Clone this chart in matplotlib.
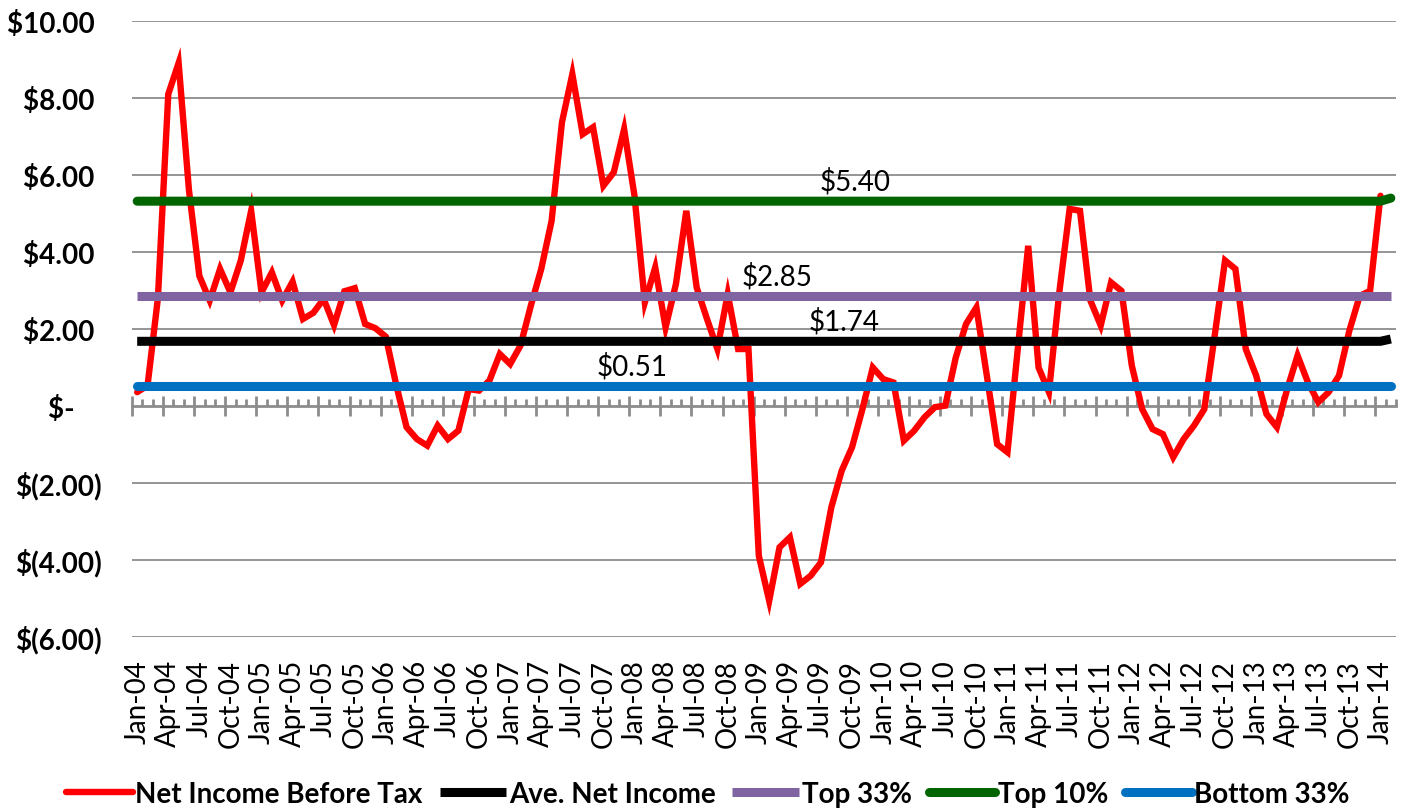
import matplotlib
matplotlib.use("Agg")
import matplotlib.pyplot as plt
import numpy as np

plt.rcParams['font.family'] = ['Lato', 'DejaVu Sans']

# ---- data -------------------------------------------------------------
n_months = 122  # Jan-04 .. Feb-14 (category slots)
net_income = [0.36, 0.53, 2.8, 8.1, 8.91, 5.6, 3.38, 2.74, 3.56, 2.95,
              3.78, 5.07, 2.95, 3.47, 2.74, 3.23, 2.26, 2.42, 2.78, 2.10,
              2.98, 3.06, 2.13, 2.02, 1.80, 0.55, -0.55, -0.86, -1.03, -0.51,
              -0.86, -0.64, 0.44, 0.40, 0.66, 1.35, 1.09, 1.57, 2.61, 3.56,
              4.81, 7.37, 8.62, 7.06, 7.24, 5.72, 6.07, 7.19, 5.46, 2.69,
              3.60, 2.04, 3.17, 5.07, 3.08, 2.26, 1.48, 2.91, 1.48, 1.48,
              -3.89, -5.06, -3.67, -3.41, -4.62, -4.41, -4.06, -2.63, -1.68, -1.07,
              -0.08, 1.00, 0.70, 0.61, -0.90, -0.64, -0.29, -0.03, 0.01, 1.25,
              2.13, 2.56, 0.80, -0.99, -1.20, 1.50, 4.16, 1.00, 0.36, 2.95,
              5.12, 5.07, 2.74, 2.09, 3.21, 2.99, 1.05, -0.08, -0.60, -0.73,
              -1.33, -0.86, -0.51, -0.08, 1.83, 3.78, 3.56, 1.48, 0.79, -0.21,
              -0.55, 0.44, 1.31, 0.61, 0.10, 0.36, 0.79, 1.96, 2.86, 2.99,
              5.46, np.nan]
ave_net_income = [1.68] * 121 + [1.74]
top_33 = [2.85] * 122
top_10 = [5.32] * 121 + [5.40]
bottom_33 = [0.51] * 122

tick_labels = ["Jan-04", "Apr-04", "Jul-04", "Oct-04", "Jan-05", "Apr-05", "Jul-05", "Oct-05",
               "Jan-06", "Apr-06", "Jul-06", "Oct-06", "Jan-07", "Apr-07", "Jul-07", "Oct-07",
               "Jan-08", "Apr-08", "Jul-08", "Oct-08", "Jan-09", "Apr-09", "Jul-09", "Oct-09",
               "Jan-10", "Apr-10", "Jul-10", "Oct-10", "Jan-11", "Apr-11", "Jul-11", "Oct-11",
               "Jan-12", "Apr-12", "Jul-12", "Oct-12", "Jan-13", "Apr-13", "Jul-13", "Oct-13",
               "Jan-14"]
y_ticks = [-6, -4, -2, 0, 2, 4, 6, 8, 10]
y_tick_labels = ["$(6.00)", "$(4.00)", "$(2.00)", "$-    ", "$2.00 ", "$4.00 ",
                 "$6.00 ", "$8.00 ", "$10.00 "]

# data labels: (text, category index, value)
data_labels = [("$5.40", 69.3, 5.32), ("$2.85", 61.8, 2.85),
               ("$1.74", 68.2, 1.68), ("$0.51", 47.8, 0.51)]

# ---- figure -----------------------------------------------------------
W, H = 1403, 812
fig = plt.figure(figsize=(W / 100, H / 100), dpi=100)
ax = fig.add_axes([132 / W, (H - 638) / H, (1396 - 132) / W, (638 - 22) / H])

x = np.arange(n_months)
grid_c = "#8c8c8c"

ax.plot(x, net_income, color="#FF0000", lw=4.6, solid_capstyle="round",
        solid_joinstyle="miter", label="Net Income Before Tax", zorder=3)
ax.plot(x, ave_net_income, color="#000000", lw=6.5, solid_capstyle="butt",
        label="Ave. Net Income", zorder=4)
ax.plot(x, top_33, color="#8064A2", lw=6.5, solid_capstyle="butt",
        label="Top 33%", zorder=4)
ax.plot(x, top_10, color="#006400", lw=6.5, solid_capstyle="round",
        label="Top 10%", zorder=4)
ax.plot(x, bottom_33, color="#0070C0", lw=6.5, solid_capstyle="round",
        label="Bottom 33%", zorder=4)

for txt, xi, yv in data_labels:
    ax.annotate(txt, (xi, yv), xytext=(0, 14.5), textcoords="offset points",
                ha="center", va="center", fontsize=20, color="black", zorder=5)

ax.set_xlim(-0.5, n_months - 0.5)
ax.set_ylim(-6, 10)

# y axis
ax.set_yticks(y_ticks)
ax.set_yticklabels(y_tick_labels, fontsize=20, fontweight="bold")
ax.tick_params(axis="y", length=0, pad=22)
for v in y_ticks:
    if v != 0:
        ax.axhline(v, color=grid_c, lw=1.3, zorder=1)

for s in ["left", "right", "top"]:
    ax.spines[s].set_visible(False)
ax.spines["bottom"].set_position(("data", 0))
ax.spines["bottom"].set_color(grid_c)
ax.spines["bottom"].set_linewidth(2.0)
ax.spines["bottom"].set_zorder(2)

# x axis ticks at slot boundaries on the zero line
ax.set_xticks(np.arange(-0.5, n_months, 3))
ax.set_xticks(np.arange(-0.5, n_months, 1), minor=True)
ax.tick_params(axis="x", which="major", direction="inout", length=14, width=2,
               color=grid_c, labelbottom=False)
ax.tick_params(axis="x", which="minor", direction="in", length=5, width=2,
               color=grid_c, labelbottom=False)

# category labels at the bottom of the plot area
sec = ax.secondary_xaxis(0.0)
sec.set_xticks(np.arange(0, n_months, 3)[:len(tick_labels)])
sec.set_xticklabels(tick_labels, rotation=90, fontsize=20)
sec.tick_params(axis="x", length=0, pad=16)
sec.spines["bottom"].set_visible(False)

fig.legend(loc="center", bbox_to_anchor=(708 / W, (H - 795) / H), ncol=5,
           frameon=False, prop={"weight": "bold", "size": 20},
           handlelength=2.4, handletextpad=0.1, columnspacing=0.6,
           borderaxespad=0, borderpad=0)

fig.savefig("out.png", dpi=100)
